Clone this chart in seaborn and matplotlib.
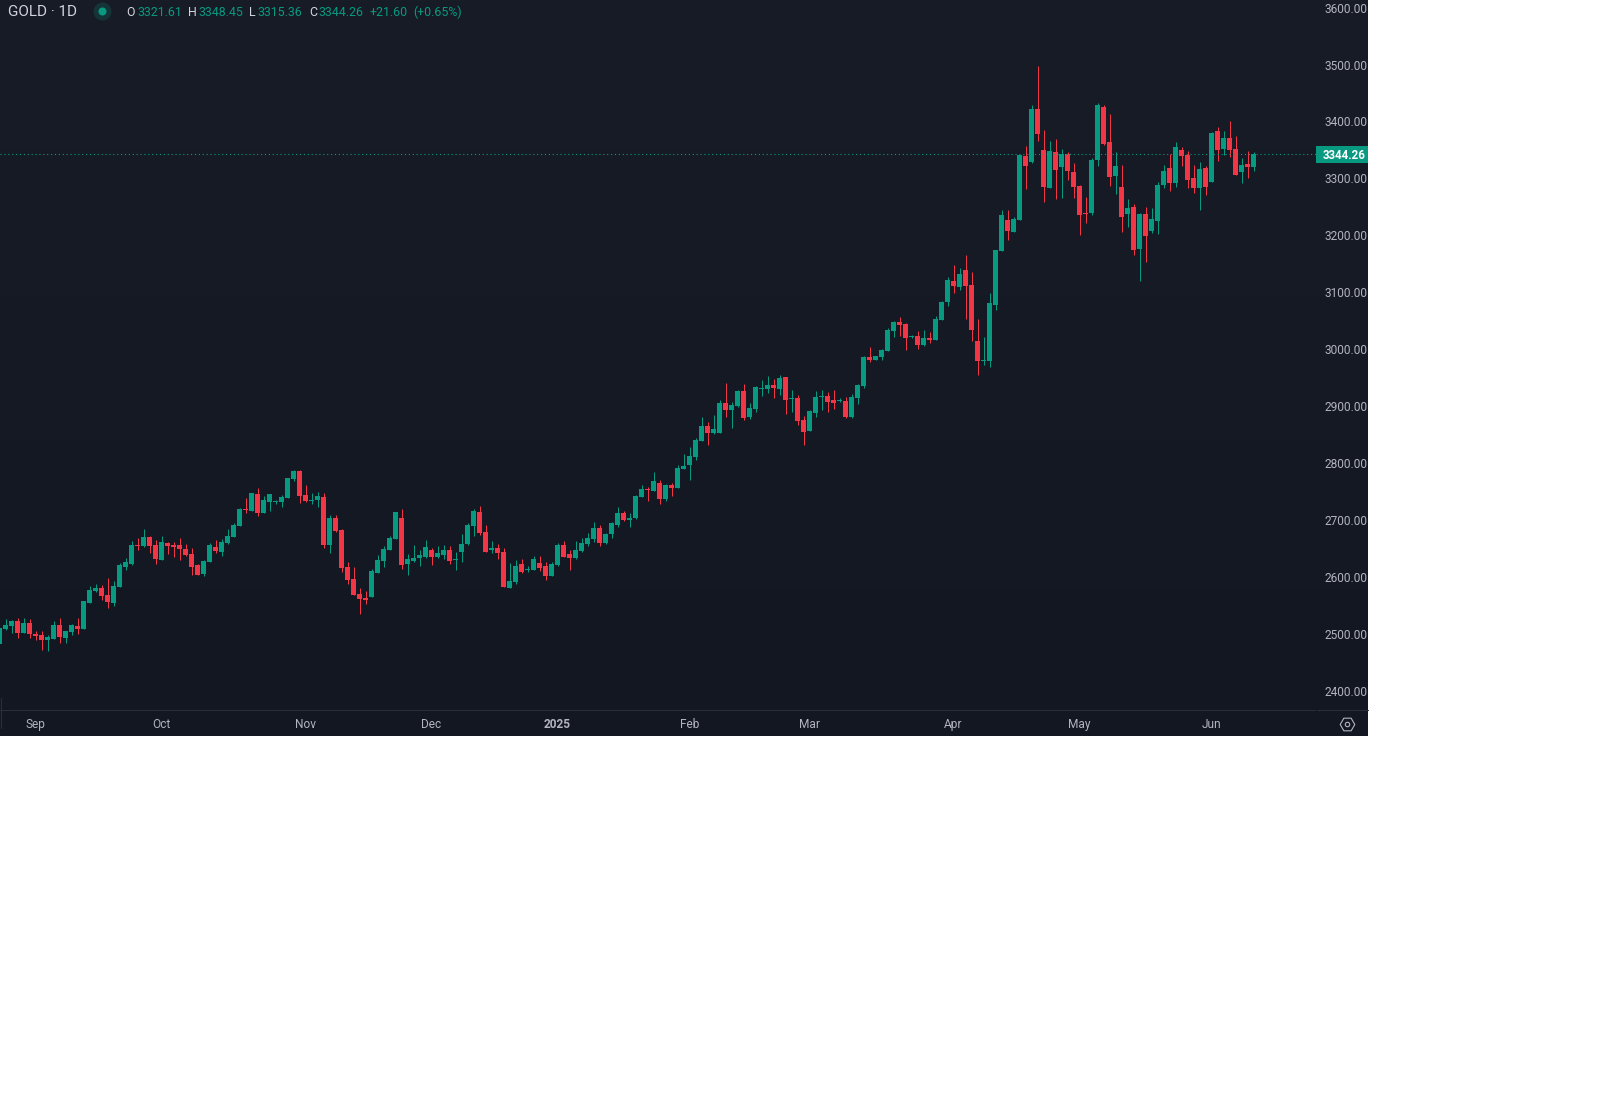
"""Daily GOLD candlesticks, TradingView dark style."""

import numpy as np
import pandas as pd
import matplotlib.pyplot as plt
from matplotlib.transforms import ScaledTranslation
import seaborn as sns

# daily prices, Aug 2024 -> Jun 2025
opens = [
    2483.7, 2509.5, 2515.3, 2524.1, 2503.0, 2520.6, 2501.3, 2499.5, 2490.7, 2492.5,
    2517.1, 2494.3, 2504.8, 2515.3, 2510.1, 2555.7, 2576.8, 2582.1, 2569.8, 2555.7,
    2583.9, 2619.0, 2624.3, 2657.6, 2655.9, 2671.7, 2657.6, 2631.3, 2661.1, 2657.6,
    2657.6, 2650.6, 2641.8, 2622.5, 2606.7, 2627.8, 2654.1, 2645.3, 2661.1, 2671.7,
    2691.0, 2720.9, 2717.4, 2747.2, 2713.9, 2733.2, 2733.2, 2733.2, 2740.2, 2773.6,
    2787.6, 2745.5, 2734.9, 2736.7, 2742.0, 2657.6, 2705.1, 2684.0, 2619.0, 2597.9,
    2571.6, 2564.5, 2566.3, 2608.4, 2629.5, 2648.9, 2668.2, 2705.1, 2624.3, 2629.5,
    2634.8, 2636.6, 2648.9, 2636.6, 2640.1, 2648.9, 2631.3, 2645.3, 2659.4, 2691.0,
    2715.6, 2680.5, 2648.9, 2652.4, 2645.3, 2582.1, 2592.6, 2624.3, 2613.7, 2613.7,
    2626.0, 2620.7, 2603.2, 2622.5, 2657.6, 2641.8, 2634.8, 2647.1, 2659.4, 2668.2,
    2687.5, 2661.2, 2677.0, 2692.8, 2713.9, 2701.6, 2705.1, 2742.0, 2756.0, 2752.5,
    2766.6, 2738.5, 2763.0, 2757.8, 2791.2, 2798.2, 2812.3, 2840.4, 2866.7, 2854.4,
    2854.4, 2907.2, 2894.9, 2901.9, 2928.2, 2882.6, 2896.6, 2931.7, 2931.7, 2938.8,
    2931.7, 2952.8, 2914.2, 2915.9, 2877.3, 2858.0, 2889.6, 2917.7, 2919.5, 2912.4,
    2910.7, 2910.7, 2882.6, 2915.9, 2937.0, 2988.0, 2982.7, 2988.0, 2998.5, 3033.6,
    3049.4, 3045.9, 3023.0, 3024.8, 3009.0, 3021.3, 3017.8, 3053.0, 3084.6, 3121.5,
    3110.9, 3140.8, 3114.5, 3016.1, 2980.9, 2980.9, 3079.3, 3174.2, 3228.6, 3207.6,
    3228.6, 3341.1, 3330.5, 3423.6, 3351.6, 3284.9, 3348.1, 3321.8, 3344.6, 3313.0,
    3288.4, 3240.9, 3240.9, 3334.1, 3427.2, 3365.6, 3305.9, 3286.6, 3239.2, 3251.5,
    3177.7, 3239.2, 3209.3, 3226.9, 3290.1, 3320.0, 3293.6, 3351.6, 3342.8, 3302.4,
    3284.8, 3320.0, 3295.4, 3385.0, 3353.3, 3372.7, 3353.3, 3312.9, 3327.0, 3321.61,
]
highs = [
    2513.0, 2527.6, 2525.9, 2529.4, 2529.4, 2527.6, 2506.6, 2506.6, 2499.5, 2524.1,
    2529.4, 2506.6, 2518.8, 2529.4, 2559.3, 2585.6, 2589.1, 2587.4, 2599.7, 2594.4,
    2626.0, 2634.8, 2664.7, 2669.9, 2685.7, 2673.4, 2666.4, 2673.4, 2662.9, 2662.9,
    2669.9, 2659.4, 2652.4, 2624.3, 2631.3, 2661.1, 2666.4, 2668.2, 2685.7, 2696.3,
    2722.6, 2740.2, 2749.0, 2757.8, 2743.7, 2747.2, 2736.7, 2745.5, 2775.3, 2789.4,
    2789.4, 2763.0, 2749.0, 2750.7, 2749.0, 2710.3, 2710.3, 2685.7, 2627.8, 2619.0,
    2582.1, 2576.8, 2615.5, 2640.1, 2655.9, 2673.5, 2715.6, 2720.9, 2641.8, 2657.6,
    2648.9, 2666.4, 2652.4, 2655.9, 2657.6, 2655.9, 2645.3, 2677.0, 2696.3, 2720.9,
    2726.2, 2692.8, 2664.7, 2659.4, 2652.4, 2626.0, 2631.3, 2633.0, 2620.7, 2638.3,
    2638.3, 2627.8, 2627.8, 2661.2, 2664.7, 2648.9, 2664.7, 2669.9, 2678.7, 2698.0,
    2692.8, 2678.7, 2698.0, 2724.4, 2717.4, 2713.9, 2745.5, 2763.0, 2759.5, 2785.9,
    2771.8, 2764.8, 2766.6, 2798.2, 2817.6, 2829.9, 2845.7, 2882.6, 2873.8, 2886.1,
    2912.4, 2942.3, 2908.9, 2930.0, 2940.5, 2907.2, 2937.0, 2947.6, 2954.6, 2949.3,
    2956.3, 2952.8, 2930.0, 2921.2, 2884.3, 2894.9, 2928.2, 2930.0, 2926.5, 2930.0,
    2915.9, 2917.7, 2923.0, 2940.5, 2989.7, 3005.5, 2989.7, 3002.0, 3038.8, 3051.1,
    3058.2, 3047.6, 3026.5, 3033.6, 3035.3, 3031.8, 3059.9, 3086.3, 3128.5, 3149.6,
    3144.3, 3167.2, 3137.3, 3054.7, 3023.1, 3100.4, 3175.9, 3246.2, 3246.2, 3233.9,
    3342.8, 3358.6, 3430.7, 3499.2, 3386.8, 3367.4, 3370.9, 3353.4, 3348.1, 3328.8,
    3290.1, 3269.1, 3337.6, 3434.2, 3430.7, 3414.8, 3348.1, 3325.2, 3265.5, 3256.7,
    3240.9, 3251.5, 3249.7, 3295.4, 3325.2, 3344.6, 3365.6, 3356.9, 3349.8, 3325.2,
    3330.5, 3323.5, 3383.2, 3392.0, 3385.0, 3402.5, 3376.2, 3337.5, 3349.8, 3348.45,
]
lows = [
    2482.0, 2508.3, 2503.0, 2494.3, 2503.0, 2494.3, 2490.7, 2473.2, 2471.4, 2492.5,
    2485.5, 2485.5, 2499.5, 2501.3, 2510.1, 2555.7, 2575.1, 2561.0, 2547.0, 2550.5,
    2583.9, 2613.7, 2622.5, 2648.9, 2654.1, 2643.6, 2624.3, 2631.3, 2641.8, 2636.6,
    2631.3, 2638.3, 2604.9, 2604.9, 2603.2, 2627.8, 2643.6, 2638.3, 2659.4, 2671.7,
    2691.0, 2713.9, 2717.4, 2708.6, 2713.9, 2717.4, 2729.7, 2724.4, 2740.2, 2770.1,
    2731.4, 2733.2, 2729.7, 2724.4, 2652.4, 2643.6, 2680.5, 2610.2, 2589.1, 2569.8,
    2536.4, 2554.0, 2566.3, 2608.4, 2619.0, 2648.9, 2668.2, 2615.5, 2604.9, 2627.8,
    2620.7, 2634.8, 2622.5, 2634.8, 2633.0, 2624.3, 2613.7, 2627.8, 2657.6, 2673.5,
    2675.2, 2645.3, 2643.6, 2633.0, 2583.9, 2582.1, 2589.1, 2608.4, 2610.2, 2613.7,
    2612.0, 2596.2, 2603.2, 2620.7, 2636.6, 2613.7, 2633.0, 2645.3, 2655.9, 2662.9,
    2655.9, 2659.4, 2669.9, 2689.3, 2699.8, 2689.3, 2703.3, 2742.0, 2734.9, 2752.5,
    2729.7, 2734.9, 2743.7, 2757.8, 2791.2, 2771.9, 2807.0, 2840.4, 2833.4, 2852.7,
    2854.4, 2882.6, 2863.2, 2900.1, 2877.3, 2879.0, 2891.3, 2919.5, 2924.7, 2915.9,
    2921.2, 2887.8, 2891.3, 2868.5, 2833.4, 2858.0, 2882.6, 2894.9, 2891.3, 2896.6,
    2908.9, 2880.8, 2880.8, 2905.4, 2933.5, 2979.2, 2982.7, 2982.7, 2998.5, 3023.0,
    3024.8, 3000.3, 3021.3, 3001.9, 3007.2, 3012.5, 3017.8, 3053.0, 3077.6, 3100.4,
    3105.7, 3054.7, 3016.1, 2956.3, 2973.9, 2970.4, 3070.5, 3174.2, 3193.5, 3207.6,
    3228.6, 3283.1, 3328.8, 3367.4, 3260.3, 3284.9, 3265.5, 3267.3, 3298.9, 3267.3,
    3202.3, 3223.4, 3237.4, 3323.5, 3360.4, 3288.3, 3274.3, 3207.5, 3216.3, 3167.1,
    3121.5, 3154.8, 3205.8, 3204.0, 3284.8, 3279.6, 3286.6, 3323.5, 3284.8, 3276.0,
    3246.2, 3272.5, 3295.4, 3332.3, 3342.8, 3339.3, 3307.7, 3293.6, 3302.4, 3315.36,
]
closes = [
    2511.8, 2517.1, 2524.1, 2503.0, 2520.6, 2501.3, 2497.8, 2490.7, 2496.0, 2517.1,
    2496.0, 2506.6, 2517.1, 2510.1, 2559.3, 2578.6, 2582.1, 2568.0, 2557.5, 2585.6,
    2622.5, 2627.8, 2657.6, 2655.9, 2671.7, 2655.9, 2633.0, 2662.9, 2655.9, 2654.1,
    2650.6, 2640.1, 2619.0, 2604.9, 2629.5, 2657.6, 2647.1, 2662.9, 2673.4, 2692.8,
    2720.9, 2719.1, 2749.0, 2713.9, 2736.7, 2747.2, 2734.9, 2742.0, 2775.3, 2787.6,
    2743.7, 2734.9, 2736.7, 2743.7, 2657.6, 2705.1, 2682.2, 2617.2, 2596.1, 2569.8,
    2562.8, 2561.0, 2612.0, 2631.3, 2650.6, 2669.9, 2715.6, 2622.5, 2633.0, 2634.8,
    2640.1, 2654.1, 2636.6, 2643.6, 2648.9, 2629.5, 2633.0, 2659.4, 2692.8, 2717.4,
    2678.7, 2645.3, 2652.4, 2643.6, 2583.9, 2594.4, 2620.7, 2610.2, 2615.5, 2633.0,
    2617.2, 2603.2, 2624.3, 2657.6, 2636.6, 2634.8, 2648.9, 2661.2, 2669.9, 2687.5,
    2661.2, 2677.0, 2696.3, 2713.9, 2701.6, 2705.1, 2743.7, 2756.0, 2754.3, 2770.1,
    2738.5, 2763.0, 2757.8, 2792.9, 2796.5, 2814.0, 2842.2, 2866.7, 2854.4, 2861.5,
    2907.2, 2894.9, 2903.6, 2928.2, 2880.8, 2898.4, 2935.3, 2933.5, 2938.8, 2933.5,
    2951.1, 2912.4, 2915.9, 2875.5, 2856.2, 2893.1, 2917.7, 2919.5, 2908.9, 2907.2,
    2912.4, 2882.6, 2917.7, 2938.8, 2988.0, 2982.7, 2989.7, 3000.3, 3035.3, 3049.4,
    3044.1, 3021.3, 3024.8, 3009.0, 3021.3, 3017.8, 3054.6, 3084.6, 3123.2, 3112.7,
    3133.8, 3112.7, 3035.4, 2980.9, 2982.7, 3082.8, 3175.9, 3237.4, 3209.3, 3230.4,
    3342.8, 3323.5, 3423.6, 3379.7, 3286.6, 3349.9, 3316.5, 3344.6, 3314.7, 3286.6,
    3237.4, 3239.2, 3334.1, 3430.7, 3362.2, 3304.2, 3323.5, 3233.9, 3249.7, 3175.9,
    3239.2, 3200.5, 3230.4, 3290.1, 3314.7, 3293.6, 3356.9, 3341.1, 3298.9, 3284.8,
    3318.2, 3286.6, 3381.5, 3351.6, 3372.7, 3351.6, 3307.7, 3325.2, 3321.7, 3344.26,
]

price_ticks = list(range(2400, 3700, 100))
month_labels = ["Sep", "Oct", "Nov", "Dec", "2025", "Feb", "Mar", "Apr", "May", "Jun"]
month_bars = [6, 27, 51, 72, 93, 115, 135, 159, 180, 202]  # bar index of each month start

UP = "#089981"
DOWN = "#F23645"
BG_TOP = "#181C27"
BG_BOTTOM = "#131722"
TEXT = "#B2B5BE"
LINE = "#2A2E39"
FONT = "Roboto"

W, H = 1611, 1100
PANEL_W, PANEL_H = 1368, 736
PLOT_W, PLOT_H = 1316, 709.5


def fx(px):
    return px / W


def fy(px):
    return 1 - px / H


def overlay(x_px, y_px, size=24):
    """Small clean axes centred on a pixel, for the round and hexagon icons."""
    sub = fig.add_axes([fx(x_px - size / 2), fy(y_px + size / 2), size / W, size / H])
    sub.patch.set_alpha(0)
    sub.set_axis_off()
    sub.set_xlim(-1, 1)
    sub.set_ylim(-1, 1)
    return sub


df = pd.DataFrame({"open": opens, "high": highs, "low": lows, "close": closes})
df["bar"] = np.arange(len(df))
df["up"] = df["close"] >= df["open"]
df["body_low"] = df[["open", "close"]].min(axis=1)
df["body_size"] = (df["close"] - df["open"]).abs()

sns.set_theme(style="dark")
plt.rcParams["font.family"] = [FONT, "DejaVu Sans"]

fig = plt.figure(figsize=(W / 100, H / 100), dpi=100, facecolor="white")

# gradient backdrop of the whole dark panel
back = fig.add_axes([0, fy(PANEL_H), fx(PANEL_W), PANEL_H / H])
top_rgb = np.array(plt.matplotlib.colors.to_rgb(BG_TOP))
bottom_rgb = np.array(plt.matplotlib.colors.to_rgb(BG_BOTTOM))
shade = np.linspace(0, 1, 256)[:, None, None]
back.imshow(top_rgb * (1 - shade) + bottom_rgb * shade, aspect="auto")
back.set_axis_off()

ax = fig.add_axes([0, fy(PLOT_H), fx(PLOT_W), PLOT_H / H])
ax.patch.set_alpha(0)

# wicks first, bodies on top
for is_up, color in [(True, UP), (False, DOWN)]:
    part = df[df["up"] == is_up]
    ax.vlines(part["bar"], part["low"], part["high"], color=color, linewidth=0.72)
    sns.barplot(
        data=part, x="bar", y="body_size", bottom=part["body_low"].values,
        native_scale=True, color=color, saturation=1, width=5 / 6,
        linewidth=0, errorbar=None, ax=ax,
    )

# last price line and its badge
last = df["close"].iloc[-1]
ax.axhline(last, color=UP, linewidth=0.8, linestyle=(0, (1, 2.5)))

ax.set_xlim(0.5 / 6, (PLOT_W + 0.5) / 6)
ax.set_ylim(2368.6, 3615.1)
ax.set_xlabel("")
ax.set_ylabel("")
ax.grid(False)
sns.despine(ax=ax, left=True, bottom=True, right=True, top=True)

ax.yaxis.tick_right()
ax.set_yticks(price_ticks, [f"{p:.2f}" for p in price_ticks])
ax.tick_params(axis="y", length=0, pad=5.8, labelsize=8.6, labelcolor=TEXT)
# nudge the price labels one pixel up
nudge = ScaledTranslation(0, 1 / 100, fig.dpi_scale_trans)
for tick_label in ax.get_yticklabels():
    tick_label.set_transform(tick_label.get_transform() + nudge)
ax.set_xticks(month_bars, month_labels)
ax.tick_params(axis="x", length=0, pad=5.8, labelsize=8.6, labelcolor=TEXT)
ax.get_xticklabels()[month_labels.index("2025")].set_fontweight("bold")

# time scale border with the small gap under the price scale
fig.add_artist(plt.Line2D([0, fx(1315)], [fy(PLOT_H)] * 2, color=LINE, linewidth=0.8))
fig.add_artist(plt.Line2D([fx(1317), fx(PANEL_W)], [fy(PLOT_H)] * 2, color=LINE, linewidth=0.8))
fig.add_artist(plt.Line2D([fx(0.5), fx(0.5)], [fy(698), fy(728)], color=LINE, linewidth=0.8))

last_y = fy(154.3)
fig.patches.append(plt.Rectangle(
    (fx(1316), fy(163)), 52 / W, 17 / H, transform=fig.transFigure,
    facecolor=UP, edgecolor="none", figure=fig,
))
fig.text(fx(1366), last_y, f"{last:.2f}", color="white", fontsize=8.3, fontweight="bold",
         ha="right", va="center_baseline")

# header line
header_y = fy(10.5)
fig.text(fx(8), header_y, "GOLD · 1D", color="#D1D4DC", fontsize=11, va="center_baseline")

status = overlay(102, 10.5)
status.plot([0], [0], marker="o", markersize=13, color=UP, alpha=0.2, markeredgewidth=0, clip_on=False)
status.plot([0], [0], marker="o", markersize=5.8, color=UP, markeredgewidth=0)

ohlc_parts = [
    (126.5, "O", "#D1D4DC"), (137, "3321.61", UP),
    (188, "H", "#D1D4DC"), (198, "3348.45", UP),
    (249.5, "L", "#D1D4DC"), (257, "3315.36", UP),
    (309, "C", "#D1D4DC"), (318, "3344.26", UP),
    (370, "+21.60", UP), (413, "(+0.65%)", UP),
]
for x_px, label, color in ohlc_parts:
    fig.text(fx(x_px), header_y, label, color=color, fontsize=8.9, va="center_baseline")

# settings gear in the corner
gear = overlay(1347, 724)
gear.plot([0], [0], marker="H", markersize=10.5, markerfacecolor="none", markeredgecolor=TEXT, markeredgewidth=0.8)
gear.plot([0], [0], marker="o", markersize=3.2, markerfacecolor="none", markeredgecolor=TEXT, markeredgewidth=0.8)

fig.savefig("out.png", dpi=100, facecolor="white")
